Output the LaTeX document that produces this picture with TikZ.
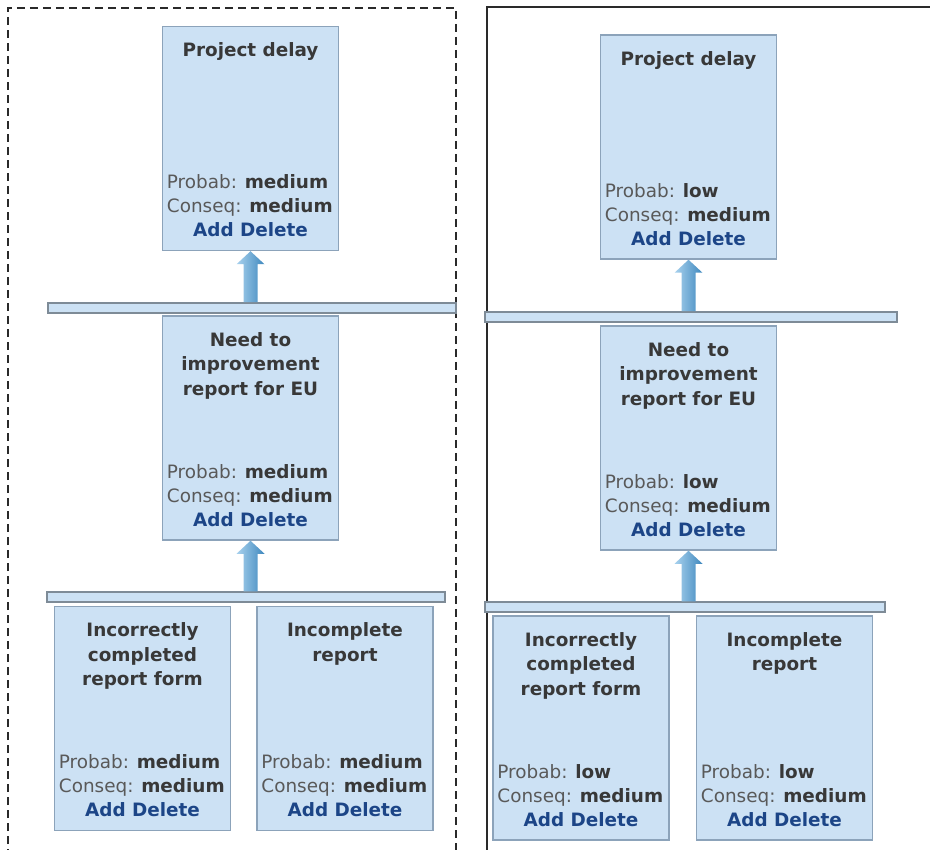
\documentclass[tikz,border=0pt]{standalone}
\usepackage{fontspec}
\setmainfont{DejaVu Sans}
\usetikzlibrary{calc}

\definecolor{cardfill}{HTML}{CCE1F4}
\definecolor{cardline}{HTML}{8CA3BA}
\definecolor{barline}{HTML}{7E8B97}
\definecolor{titleink}{HTML}{383838}
\definecolor{labelink}{HTML}{595959}
\definecolor{linkink}{HTML}{1C4587}
\definecolor{arrowlight}{HTML}{A9D2EE}
\definecolor{arrowdark}{HTML}{3F88BE}
\definecolor{frameink}{HTML}{2A2A2A}

\tikzset{
  card/.style={draw=cardline, fill=cardfill, line width=1.5pt, rectangle,
    minimum width=176pt, minimum height=224pt, inner sep=0pt},
  bar/.style={draw=barline, fill=cardfill, line width=1.5pt, rectangle,
    minimum height=10pt, inner sep=0pt},
  cardtitle/.style={inner sep=0pt, align=center, text=titleink,
    font=\fontsize{18.4}{24.5}\selectfont\bfseries},
  cardtext/.style={inner sep=0pt, text=labelink,
    font=\fontsize{18.4}{24}\selectfont},
  cardlink/.style={inner sep=0pt, text=linkink,
    font=\fontsize{18.4}{24}\selectfont\bfseries},
  arrowfill/.style={left color=arrowlight, right color=arrowdark},
  dashframe/.style={draw=frameink, line width=1.4pt, dash pattern=on 8pt off 5pt},
  solidframe/.style={draw=frameink, line width=1.4pt},
}

% risk card: name, centre, title, probability, consequence
\newcommand{\riskcard}[5]{%
  \node[card] (#1) at (#2) {};
  \node[cardtitle, anchor=north] (#1-t) at ([yshift=-17pt]#1.north) {#3};
  \node[cardtext, anchor=base west] (#1-p) at ([xshift=5pt,yshift=-163pt]#1.north west)
    {Probab: \textcolor{titleink}{\bfseries #4}};
  \node[cardtext, anchor=base west] (#1-c) at ([xshift=5pt,yshift=-187pt]#1.north west)
    {Conseq: \textcolor{titleink}{\bfseries #5}};
  \node[cardlink, anchor=base] (#1-a) at ([yshift=-211pt]#1.north) {Add Delete};
}

% block arrow from the top of a bar up to the bottom of a card
\newcommand{\liftarrow}[2]{%
  \shade[arrowfill] let \p1=(#2.south), \p2=(#1.north) in
    (\x1-7pt,\y2) -- (\x1-7pt,\y1-13pt) -- (\x1-14pt,\y1-13pt) -- (\x1,\y1)
    -- (\x1+14pt,\y1-13pt) -- (\x1+7pt,\y1-13pt) -- (\x1+7pt,\y2) -- cycle;
}

\begin{document}
\begin{tikzpicture}[x=1pt, y=-1pt]
\useasboundingbox (0,0) rectangle (930,850);
\clip (0,0) rectangle (930,850);

% frames round the two trees
\draw[dashframe] (8,870) -- (8,8) -- (456,8) -- (456,870);
\draw[solidframe] (487,870) -- (487,7) -- (950,7);

% left tree
\riskcard{lt}{250.5,138.5}{Project delay}{medium}{medium}
\riskcard{lm}{250.5,428}{Need to\\improvement\\report for EU}{medium}{medium}
\riskcard{lbl}{142.5,718.5}{Incorrectly\\completed\\report form}{medium}{medium}
\riskcard{lbr}{345,718.5}{Incomplete\\report}{medium}{medium}
\node[bar, minimum width=408pt] (lbar1) at (252,308) {};
\node[bar, minimum width=398pt] (lbar2) at (246,597) {};
\liftarrow{lbar1}{lt}
\liftarrow{lbar2}{lm}

% right tree
\riskcard{rt}{688.5,147}{Project delay}{low}{medium}
\riskcard{rm}{688.5,438}{Need to\\improvement\\report for EU}{low}{medium}
\riskcard{rbl}{581,728}{Incorrectly\\completed\\report form}{low}{medium}
\riskcard{rbr}{784.5,728}{Incomplete\\report}{low}{medium}
\node[bar, minimum width=412pt] (rbar1) at (691,317) {};
\node[bar, minimum width=400pt] (rbar2) at (685,607) {};
\liftarrow{rbar1}{rt}
\liftarrow{rbar2}{rm}
\end{tikzpicture}
\end{document}
